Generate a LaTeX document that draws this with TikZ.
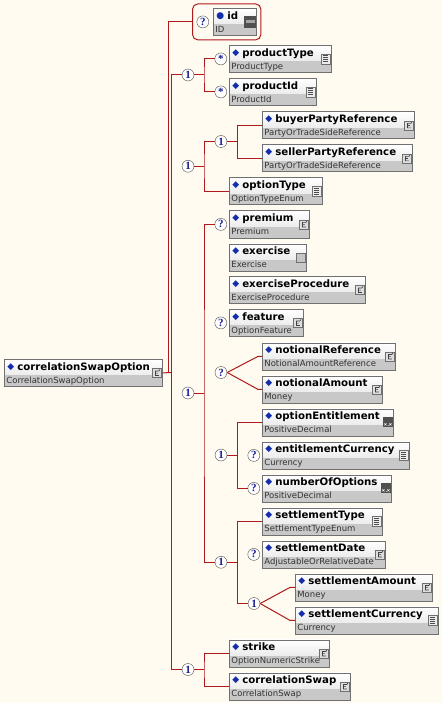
\documentclass[tikz,border=0pt]{standalone}
\usepackage{fontspec}
\setmainfont{DejaVu Sans}
\newfontfamily\occfont{Liberation Serif}
\usetikzlibrary{positioning, fit}
\definecolor{bgcream}{RGB}{255, 251, 240}
\definecolor{linkred}{RGB}{175, 25, 25}
\definecolor{boxline}{RGB}{112, 112, 112}
\definecolor{boxband}{RGB}{200, 200, 200}
\definecolor{diamblue}{RGB}{20, 45, 170}
\definecolor{occblue}{RGB}{25, 25, 150}
\definecolor{icondark}{RGB}{80, 80, 80}
\newcommand{\elname}[2][◆]{\rule{0pt}{11pt}\hspace{1pt}\raisebox{1pt}{\fontsize{9}{13}\selectfont\color{diamblue}#1}\hspace{3pt}{\fontsize{10.2}{13}\selectfont\bfseries #2}}
\newcommand{\eltype}[1]{{\color{black!80}#1}\rule[-3pt]{0pt}{3pt}}
\newcommand{\bandfill}{\fill[boxband] ([yshift=11pt]path picture bounding box.south west) rectangle (path picture bounding box.south east);}
\tikzset{
  link/.style={draw=linkred, line width=1pt},
  elem/.style={rectangle, draw=boxline, line width=0.8pt, top color=white, bottom color=boxband!60, anchor=north west, align=left, text width=#1, inner xsep=2pt, inner ysep=0pt, minimum height=27pt, font=\fontsize{8.5}{13}\selectfont},
  occ/.style={circle, draw=gray!60!black, fill=white, minimum size=12pt, inner sep=0pt, text=occblue, font=\occfont\bfseries\fontsize{11}{11}\selectfont},
  attframe/.style={draw=linkred, line width=1pt, rounded corners=5pt, inner sep=4pt},
  cicon/.style={path picture={\bandfill
    \filldraw[fill=boxband!60, draw=boxline, line width=0.6pt] ([shift={(-10pt,-4.5pt)}]path picture bounding box.east) rectangle ([shift={(-1.5pt,4.5pt)}]path picture bounding box.east);
    \draw[black!75, line width=0.7pt] ([shift={(-3.5pt,2pt)}]path picture bounding box.east) -- ++(-3.5pt,0pt) -- ++(0pt,-4.5pt) -- ++(3.5pt,0pt)
      ([shift={(-7pt,-0.2pt)}]path picture bounding box.east) -- ++(2.5pt,0pt)
      ([shift={(-3.5pt,2pt)}]path picture bounding box.east) -- ++(1pt,1.5pt);}},
  enumicon/.style={path picture={\bandfill
    \filldraw[fill=gray!15, draw=boxline, line width=0.6pt] ([shift={(-10pt,-5pt)}]path picture bounding box.east) rectangle ([shift={(-1.5pt,5pt)}]path picture bounding box.east);
    \foreach \k in {-3,-1,1,3}
      \draw[black!70, line width=0.8pt] ([shift={(-8.5pt,\k pt)}]path picture bounding box.east) -- ++(5.5pt,0pt);}},
  xxicon/.style={path picture={\bandfill
    \fill[icondark] ([shift={(-10pt,-5pt)}]path picture bounding box.east) rectangle ([shift={(-0.5pt,5pt)}]path picture bounding box.east);
    \draw[white, line width=0.5pt] ([shift={(-9pt,-3pt)}]path picture bounding box.east) -- ++(2pt,2pt) ++(-2pt,0pt) -- ++(2pt,-2pt)
      ([shift={(-4pt,-3pt)}]path picture bounding box.east) -- ++(2pt,2pt) ++(-2pt,0pt) -- ++(2pt,-2pt);
    \fill[white] ([shift={(-5.2pt,-3pt)}]path picture bounding box.east) circle (0.45pt);}},
  plainicon/.style={path picture={\bandfill
    \filldraw[fill=gray!45, draw=boxline, line width=0.6pt] ([shift={(-10pt,-4.5pt)}]path picture bounding box.east) rectangle ([shift={(-1pt,4.5pt)}]path picture bounding box.east);}},
  idicon/.style={path picture={\bandfill
    \fill[icondark] ([shift={(-12pt,-6pt)}]path picture bounding box.east) rectangle ([shift={(0pt,6pt)}]path picture bounding box.east);
    \fill[gray!70] ([shift={(-10.5pt,-1.5pt)}]path picture bounding box.east) rectangle ([shift={(-1.5pt,1.5pt)}]path picture bounding box.east);}}
}

\begin{document}
\begin{tikzpicture}[x=1pt, y=-1pt]
  \useasboundingbox[fill=bgcream] (0,0) rectangle (442,703);

  % root and its attribute
  \node (root) [elem=154, cicon] at (4,359) {\elname{correlationSwapOption}\\\eltype{CorrelationSwapOption}};
  \node (id) [elem=39, idicon] at (213,8) {\elname[●]{id}\\\eltype{ID}};
  \node (qid) [occ, left=4pt of id] {?};
  \node (idframe) [attframe, fit=(qid)(id)] {};

  % product
  \node (ptype) [elem=98, enumicon] at (229,45) {\elname{productType}\\\eltype{ProductType}};
  \node (pid) [elem=83, enumicon] at (229,78) {\elname{productId}\\\eltype{ProductId}};
  \node (s1) [occ, left=2pt of ptype] {\raisebox{-2.5pt}{*}};
  \node (s2) [occ, left=2pt of pid] {\raisebox{-2.5pt}{*}};
  \node (c1) [occ] at (188,75) {1};

  % parties and option type
  \node (buyer) [elem=148, cicon] at (262,111.5) {\elname{buyerPartyReference}\\\eltype{PartyOrTradeSideReference}};
  \node (seller) [elem=146, cicon] at (262,144.5) {\elname{sellerPartyReference}\\\eltype{PartyOrTradeSideReference}};
  \node (otype) [elem=89, enumicon] at (229,177.5) {\elname{optionType}\\\eltype{OptionTypeEnum}};
  \node (c2a) [occ] at (221,141.5) {1};
  \node (c2) [occ] at (188,166.25) {1};

  % option features
  \node (premium) [elem=76, cicon] at (229,210.5) {\elname{premium}\\\eltype{Premium}};
  \node (exercise) [elem=73, plainicon] at (229,243.5) {\elname{exercise}\\\eltype{Exercise}};
  \node (exproc) [elem=132, cicon] at (229,276) {\elname{exerciseProcedure}\\\eltype{ExerciseProcedure}};
  \node (feature) [elem=70, cicon] at (229,309) {\elname{feature}\\\eltype{OptionFeature}};
  \node (qprem) [occ, left=2pt of premium] {?};
  \node (qfeat) [occ, left=2pt of feature] {?};
  \node (nref) [elem=129, cicon] at (262,342.5) {\elname{notionalReference}\\\eltype{NotionalAmountReference}};
  \node (namt) [elem=116, cicon] at (262,375.5) {\elname{notionalAmount}\\\eltype{Money}};
  \node (qnot) [occ] at (221,372.5) {?};
  \node (oent) [elem=127, xxicon] at (262,408.5) {\elname{optionEntitlement}\\\eltype{PositiveDecimal}};
  \node (ecur) [elem=143, enumicon] at (262,441.5) {\elname{entitlementCurrency}\\\eltype{Currency}};
  \node (nopt) [elem=125, xxicon] at (262,474.5) {\elname{numberOfOptions}\\\eltype{PositiveDecimal}};
  \node (qecur) [occ, left=2pt of ecur] {?};
  \node (qnopt) [occ, left=2pt of nopt] {?};
  \node (c4) [occ] at (221,455) {1};
  \node (stype) [elem=116, enumicon] at (262,507.5) {\elname{settlementType}\\\eltype{SettlementTypeEnum}};
  \node (sdate) [elem=119, cicon] at (262,540.5) {\elname{settlementDate}\\\eltype{AdjustableOrRelativeDate}};
  \node (samt) [elem=133, cicon] at (295,573.5) {\elname{settlementAmount}\\\eltype{Money}};
  \node (scur) [elem=139, enumicon] at (295,606.5) {\elname{settlementCurrency}\\\eltype{Currency}};
  \node (qsdate) [occ, left=2pt of sdate] {?};
  \node (c6) [occ] at (254,603.5) {1};
  \node (c5) [occ] at (221,562.25) {1};
  \node (c3) [occ] at (188,393) {1};

  % strike and underlying swap
  \node (strike) [elem=96, cicon] at (229,639.5) {\elname{strike}\\\eltype{OptionNumericStrike}};
  \node (cswap) [elem=117, cicon] at (229,672.5) {\elname{correlationSwap}\\\eltype{CorrelationSwap}};
  \node (c7) [occ] at (188,669.5) {1};

  % connectors
  \coordinate (rootj) at (171.5,372.5);
  \coordinate (attj) at (168.5,372.5);
  \coordinate (j1) at (204,75);
  \coordinate (j2) at (204,166.25);
  \coordinate (j2a) at (237.5,141.5);
  \coordinate (j3) at (204,393);
  \coordinate (j4) at (237.5,455);
  \coordinate (j5) at (237.5,562.25);
  \coordinate (j7) at (204,669.5);

  \draw[link] (root.east) -- (rootj);
  \draw[link] (idframe.west) -| (attj);
  \draw[link] (c1.west) -| (rootj) |- (c7.west);

  \draw[link] (c1) -- (j1);
  \draw[link] (s1.west) -| (j1) |- (s2.west);

  \draw[link] (c2) -- (j2);
  \draw[link] (c2a.west) -| (j2) |- (otype.west);
  \draw[link] (c2a) -- (j2a);
  \draw[link] (buyer.west) -| (j2a) |- (seller.west);

  \draw[link] (c3) -- (j3);
  \draw[link] (qprem.west) -| (j3) |- (c5.west);
  \draw[link] (qnot.east) -- ([xshift=-4pt]nref.west) -- (nref.west);
  \draw[link] (qnot.east) -- ([xshift=-4pt]namt.west) -- (namt.west);
  \draw[link] (c4) -- (j4);
  \draw[link] (oent.west) -| (j4) |- (qnopt.west);
  \draw[link] (c5) -- (j5);
  \draw[link] (stype.west) -| (j5) |- (c6.west);
  \draw[link] (c6.east) -- ([xshift=-5pt]samt.west) -- (samt.west);
  \draw[link] (c6.east) -- ([xshift=-5pt]scur.west) -- (scur.west);

  \draw[link] (c7) -- (j7);
  \draw[link] (strike.west) -| (j7) |- (cswap.west);
\end{tikzpicture}
\end{document}
